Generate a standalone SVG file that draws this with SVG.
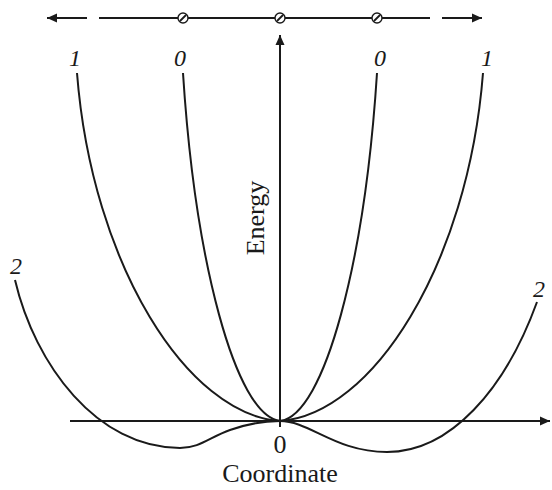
<svg xmlns="http://www.w3.org/2000/svg" width="552" height="490" viewBox="0 0 552 490">
<defs>
<marker id="ah" viewBox="0 0 10 10" refX="10" refY="5" markerWidth="10" markerHeight="10" markerUnits="userSpaceOnUse" orient="auto">
<path d="M0,0.5 L10,5 L0,9.5 z" fill="#1a1a1a"/>
</marker>
</defs>
<style>
.ax{stroke:#1a1a1a;stroke-width:2;fill:none}
.cv{stroke:#1a1a1a;stroke-width:2;fill:none}
.tl{stroke:#1a1a1a;stroke-width:1.8;fill:none}
.nd{fill:#fff;stroke:#1a1a1a;stroke-width:1.4}
.it{font-family:'Liberation Serif','Times New Roman',serif;font-style:italic;font-size:24px;fill:#1a1a1a;text-anchor:middle}
.rm{font-family:'Liberation Serif','Times New Roman',serif;font-size:26px;fill:#1a1a1a;text-anchor:middle}
</style>
<rect width="552" height="490" fill="#fff"/>
<g id="top-line">
<line class="tl" x1="87" y1="18" x2="47" y2="18" marker-end="url(#ah)"/>
<line class="tl" x1="99" y1="18" x2="430" y2="18"/>
<line class="tl" x1="442" y1="18" x2="482" y2="18" marker-end="url(#ah)"/>
</g>
<g id="node-left"><circle class="nd" cx="183" cy="18" r="5"/><line class="tl" stroke-width="1.2" x1="180" y1="21" x2="186" y2="15"/></g>
<g id="node-center"><circle class="nd" cx="280" cy="18" r="5"/><line class="tl" stroke-width="1.2" x1="277" y1="21" x2="283" y2="15"/></g>
<g id="node-right"><circle class="nd" cx="377" cy="18" r="5"/><line class="tl" stroke-width="1.2" x1="374" y1="21" x2="380" y2="15"/></g>
<g id="axes">
<line class="ax" x1="70" y1="421" x2="550" y2="421" marker-end="url(#ah)"/>
<line class="ax" x1="280" y1="427" x2="280" y2="35" marker-end="url(#ah)"/>
</g>
<g id="curves">
<path class="cv" d="M183,73 C195,260 235,415 280,421 C325,415 365,260 377,73"/>
<path class="cv" d="M77,73 C92,265 188,415 280,421 C372,415 468,265 483,73"/>
<path class="cv" d="M15,280 C35,365 97,448 180,448 C200,448 210,437 230,430 C250,423 265,421 280,421 C310,421 335,452 387,452 C450,452 505,390 537,302"/>
</g>
<g id="labels">
<text class="it" x="75" y="66">1</text>
<text class="it" x="180" y="66">0</text>
<text class="it" x="380" y="66">0</text>
<text class="it" x="487" y="66">1</text>
<text class="it" x="16" y="274">2</text>
<text class="it" x="539" y="297">2</text>
<text class="rm" x="280" y="453">0</text>
<text class="rm" x="280" y="482">Coordinate</text>
<text class="rm" transform="translate(264,218) rotate(-90)" x="0" y="0">Energy</text>
</g>
</svg>
